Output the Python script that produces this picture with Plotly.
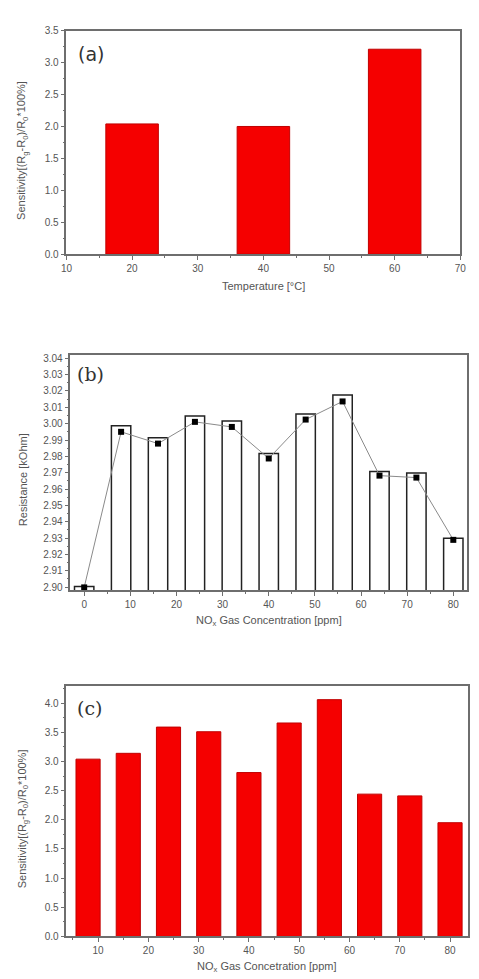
import plotly.graph_objects as go

# Panel (a)
temp_c = [20, 40, 60]
sens_temp = [2.04, 2.00, 3.21]

# Panel (b)
conc_b = [0, 8, 16, 24, 32, 40, 48, 56, 64, 72, 80]
res_bar = [2.9003, 2.9987, 2.9914, 3.0047, 3.0017, 2.9817, 3.0059, 3.0176, 2.9708, 2.9698, 2.9299]
res_pt = [2.8998, 2.9950, 2.9878, 3.0011, 2.9980, 2.9787, 3.0025, 3.0136, 2.9682, 2.9670, 2.9289]

# Panel (c)
conc_c = [8, 16, 24, 32, 40, 48, 56, 64, 72, 80]
sens_conc = [3.04, 3.14, 3.59, 3.51, 2.81, 3.66, 4.06, 2.44, 2.41, 1.95]

W, H = 479, 979
RED = "#f50000"
AX = "#6e6e6e"
TICKF = dict(family="Liberation Sans, Arial, sans-serif", size=10, color="#555555")
TITLEF = dict(family="Liberation Sans, Arial, sans-serif", size=11, color="#555555")

def px(x):
    return x / W

def py(y):
    return 1 - y / H

fig = go.Figure()

fig.add_trace(go.Bar(x=temp_c, y=sens_temp, width=8, marker=dict(color=RED, line=dict(color="#c00000", width=1)),
                     xaxis="x", yaxis="y", showlegend=False))
fig.add_trace(go.Bar(x=conc_b, y=res_bar, width=4.2,
                     marker=dict(color="white", line=dict(color="#222222", width=1.5)),
                     xaxis="x2", yaxis="y2", showlegend=False))
fig.add_trace(go.Scatter(x=conc_b, y=res_pt, mode="lines+markers",
                         line=dict(color="#8a8a8a", width=1),
                         marker=dict(symbol="square", size=6, color="black"),
                         xaxis="x2", yaxis="y2", showlegend=False, cliponaxis=False))
fig.add_trace(go.Bar(x=conc_c, y=sens_conc, width=4.8, marker=dict(color=RED, line=dict(color="#c00000", width=1)),
                     xaxis="x3", yaxis="y3", showlegend=False))

def xax(dom, rng, dtick, minor, anchor):
    return dict(domain=dom, range=rng, dtick=dtick, tick0=0, ticks="outside", ticklen=4, tickcolor=AX,
                showline=True, linecolor=AX, linewidth=1.5, mirror=True, showgrid=False, zeroline=False,
                tickfont=TICKF, anchor=anchor,
                minor=dict(dtick=minor, tick0=0, ticks="outside", ticklen=2, tickcolor=AX, showgrid=False))

def yax(dom, rng, dtick, minor, fmt, anchor, tick0=0):
    return dict(domain=dom, range=rng, dtick=dtick, tick0=tick0, ticks="outside", ticklen=4, tickcolor=AX,
                showline=True, linecolor=AX, linewidth=1.5, mirror=True, showgrid=False, zeroline=False,
                tickfont=TICKF, tickformat=fmt, anchor=anchor,
                minor=dict(dtick=minor, tick0=tick0, ticks="outside", ticklen=2, tickcolor=AX, showgrid=False))

fig.update_layout(
    width=W, height=H, margin=dict(l=0, r=0, t=0, b=0),
    paper_bgcolor="white", plot_bgcolor="white", barmode="overlay",
    xaxis=xax([px(62), px(466)], [10, 70], 10, 5, "y"),
    yaxis=yax([py(252), py(26)], [0, 3.5], 0.5, 0.25, ".1f", "x"),
    xaxis2=xax([px(66), px(473)], [-3, 83], 10, 5, "y2"),
    yaxis2=yax([py(592), py(354)], [2.898, 3.042], 0.01, 0.005, ".2f", "x2", tick0=2.9),
    xaxis3=xax([px(62), px(474)], [3.7, 83.6], 10, 5, "y3"),
    yaxis3=yax([py(942), py(689)], [0, 4.29], 0.5, 0.25, ".1f", "x3"),
)

ann = []
def add_text(text, x, y, font, angle=0):
    ann.append(dict(text=text, x=px(x), y=py(y), xref="paper", yref="paper", showarrow=False,
                    xanchor="center", yanchor="middle", font=font, textangle=angle))

sens_title = "Sensitivity[(R<sub>g</sub>-R<sub>0</sub>)/R<sub>0</sub>*100%]"
add_text(sens_title, 17, 147, TITLEF, -90)
add_text("Temperature [°C]", 264, 284, TITLEF)
add_text("Resistance [kOhm]", 17, 480, TITLEF, -90)
add_text("NO<sub>x</sub> Gas Concentration [ppm]", 270, 623, TITLEF)
add_text(sens_title, 17, 823, TITLEF, -90)
add_text("NO<sub>x</sub> Gas Concetration [ppm]", 268, 973, TITLEF)

add_text("(a)", 87, 50, dict(family="DejaVu Sans, sans-serif", size=19, color="#333333"))
add_text("(b)", 87, 373, dict(family="DejaVu Serif, serif", size=19, color="#333333"))
add_text("(c)", 86, 711, dict(family="DejaVu Serif, serif", size=19, color="#333333"))

fig.update_layout(annotations=ann)
fig.write_html("out.html")
